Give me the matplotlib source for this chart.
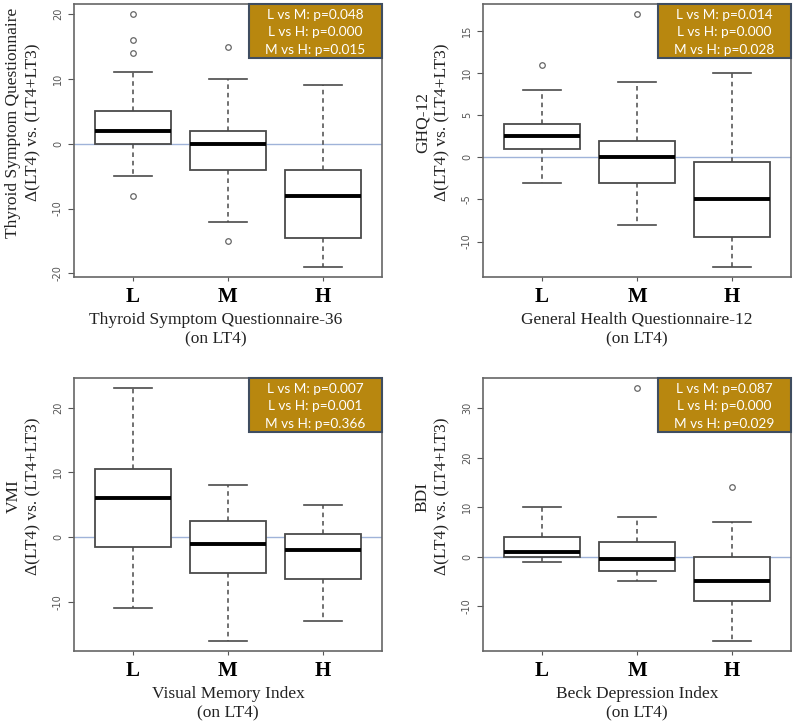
import matplotlib
matplotlib.use("Agg")
import matplotlib.pyplot as plt
from matplotlib.patches import Rectangle

plt.rcParams['axes.unicode_minus'] = False

groups = ["L", "M", "H"]

# Panel 1: Thyroid Symptom Questionnaire-36
tsq_whi = [11, 10, 9]
tsq_q3 = [5, 2, -4]
tsq_med = [2, 0, -8]
tsq_q1 = [0, -4, -14.5]
tsq_wlo = [-5, -12, -19]
tsq_fliers = [[20, 16, 14, -8], [15, -15], []]
tsq_ticks = [-20, -10, 0, 10, 20]
tsq_p = ["L vs M: p=0.048", "L vs H: p=0.000", "M vs H: p=0.015"]

# Panel 2: GHQ-12
ghq_whi = [8, 9, 10]
ghq_q3 = [4, 2, -0.5]
ghq_med = [2.5, 0, -5]
ghq_q1 = [1, -3, -9.5]
ghq_wlo = [-3, -8, -13]
ghq_fliers = [[11], [17], []]
ghq_ticks = [-10, -5, 0, 5, 10, 15]
ghq_p = ["L vs M: p=0.014", "L vs H: p=0.000", "M vs H: p=0.028"]

# Panel 3: VMI
vmi_whi = [23, 8, 5]
vmi_q3 = [10.5, 2.5, 0.5]
vmi_med = [6, -1, -2]
vmi_q1 = [-1.5, -5.5, -6.5]
vmi_wlo = [-11, -16, -13]
vmi_fliers = [[], [], []]
vmi_ticks = [-10, 0, 10, 20]
vmi_p = ["L vs M: p=0.007", "L vs H: p=0.001", "M vs H: p=0.366"]

# Panel 4: BDI
bdi_whi = [10, 8, 7]
bdi_q3 = [4, 3, 0]
bdi_med = [1, -0.5, -5]
bdi_q1 = [0, -3, -9]
bdi_wlo = [-1, -5, -17]
bdi_fliers = [[], [34], [14]]
bdi_ticks = [-10, 0, 10, 20, 30]
bdi_p = ["L vs M: p=0.087", "L vs H: p=0.000", "M vs H: p=0.029"]

panels = [
    dict(whi=tsq_whi, q3=tsq_q3, med=tsq_med, q1=tsq_q1, wlo=tsq_wlo, fl=tsq_fliers,
         ticks=tsq_ticks, p=tsq_p, ylab="Thyroid Symptom Questionnaire\nΔ(LT4) vs. (LT4+LT3)",
         xlab="Thyroid Symptom Questionnaire-36\n(on LT4)", pos=[74, 4], xlx=0.461),
    dict(whi=ghq_whi, q3=ghq_q3, med=ghq_med, q1=ghq_q1, wlo=ghq_wlo, fl=ghq_fliers,
         ticks=ghq_ticks, p=ghq_p, ylab="GHQ-12\nΔ(LT4) vs. (LT4+LT3)",
         xlab="General Health Questionnaire-12\n(on LT4)", pos=[483, 4], xlx=0.5),
    dict(whi=vmi_whi, q3=vmi_q3, med=vmi_med, q1=vmi_q1, wlo=vmi_wlo, fl=vmi_fliers,
         ticks=vmi_ticks, p=vmi_p, ylab="VMI\nΔ(LT4) vs. (LT4+LT3)",
         xlab="Visual Memory Index\n(on LT4)", pos=[74, 378], xlx=0.5),
    dict(whi=bdi_whi, q3=bdi_q3, med=bdi_med, q1=bdi_q1, wlo=bdi_wlo, fl=bdi_fliers,
         ticks=bdi_ticks, p=bdi_p, ylab="BDI\nΔ(LT4) vs. (LT4+LT3)",
         xlab="Beck Depression Index\n(on LT4)", pos=[483, 378], xlx=0.5),
]

W, H = 795, 724
fig = plt.figure(figsize=(W / 100, H / 100), dpi=100)
aw, ah = 308, 273
serif = "Liberation Serif"
boxcol = "#4a4a4a"

for pnl in panels:
    x0, y0 = pnl["pos"]
    ax = fig.add_axes([x0 / W, 1 - (y0 + ah) / H, aw / W, ah / H])
    stats = []
    for i, g in enumerate(groups):
        stats.append(dict(med=pnl["med"][i], q1=pnl["q1"][i], q3=pnl["q3"][i],
                          whislo=pnl["wlo"][i], whishi=pnl["whi"][i],
                          fliers=pnl["fl"][i], label=g))
    ax.axhline(0, color="#9fb3d9", lw=1.0, zorder=0)
    ax.bxp(stats, positions=[1, 2, 3], widths=0.8, capwidths=0.4, patch_artist=True,
           boxprops=dict(facecolor="white", edgecolor=boxcol, linewidth=1.3),
           medianprops=dict(color="black", linewidth=2.8, solid_capstyle="butt"),
           whiskerprops=dict(color=boxcol, linewidth=1.1, linestyle=(0, (3, 2.5))),
           capprops=dict(color=boxcol, linewidth=1.2),
           flierprops=dict(marker="o", markersize=4, markerfacecolor="none",
                           markeredgecolor="#666666", markeredgewidth=0.9))
    allv = pnl["wlo"] + pnl["whi"] + [v for f in pnl["fl"] for v in f]
    lo, hi = min(allv), max(allv)
    pad = 0.04 * (hi - lo)
    ax.set_ylim(lo - pad, hi + pad)
    ax.set_xlim(0.5 - 0.12, 3.5 + 0.12)
    ax.set_yticks(pnl["ticks"])
    ax.set_yticklabels([str(t) for t in pnl["ticks"]], rotation=90, va="center",
                       fontsize=7, color="#555555", family="DejaVu Sans")
    ax.set_xticks([1, 2, 3])
    ax.set_xticklabels(groups, fontsize=15, fontweight="bold", family=serif)
    ax.tick_params(axis="y", direction="out", length=4, color="#555555", pad=4)
    ax.tick_params(axis="x", direction="out", length=3, color="#555555", pad=4)
    for s in ax.spines.values():
        s.set_color("#666666")
        s.set_linewidth(1.2)
    ax.set_ylabel(pnl["ylab"], family=serif, fontsize=12.5, linespacing=1.35, color="#222222")
    ax.yaxis.set_label_coords(-0.105, 0.566)
    ax.set_xlabel(pnl["xlab"], family=serif, fontsize=12.5, linespacing=1.32, color="#222222",
                  va="top")
    ax.xaxis.set_label_coords(pnl["xlx"], -0.128)
    # p-value box
    ax.add_patch(Rectangle((0.567, 0.802), 0.433, 0.198, transform=ax.transAxes,
                           facecolor="#B8870F", edgecolor="#3f4d60", linewidth=1.5,
                           zorder=5, clip_on=False))
    ax.text(0.567 + 0.433 / 2, 0.896, "\n".join(pnl["p"]), transform=ax.transAxes,
            ha="center", va="center", color="white", fontsize=9.8, family="Lato",
            linespacing=1.55, zorder=6)

fig.savefig("out.png", dpi=100)
